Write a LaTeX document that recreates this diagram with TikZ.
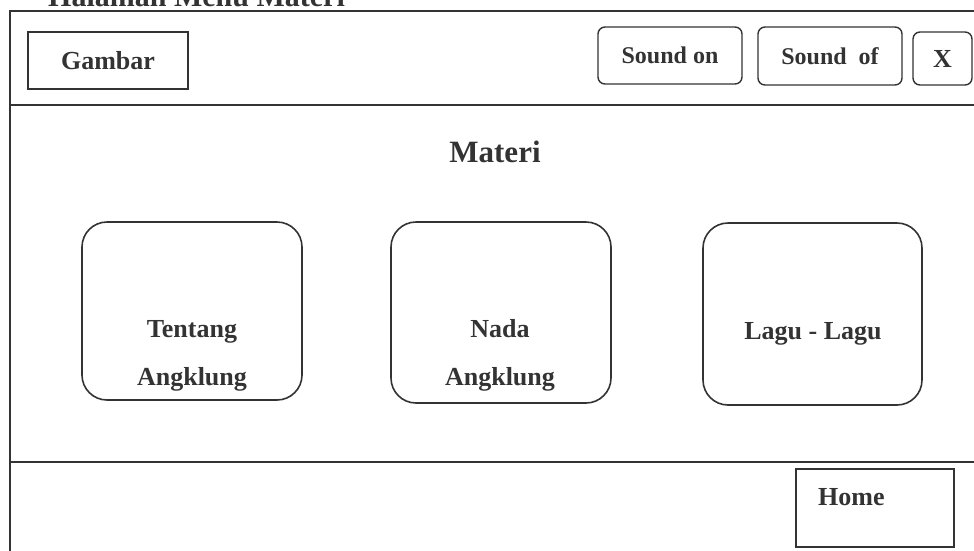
\documentclass[tikz,border=0pt]{standalone}
\usepackage{fontspec}
\setmainfont{Liberation Serif}
\definecolor{ink}{HTML}{333333}
\tikzset{
  frameline/.style={draw=ink,line width=1.6pt},
  btnbox/.style={draw=ink,line width=1.4pt,rounded corners=7pt,inner sep=0pt},
  flatbox/.style={draw=ink,line width=1.6pt,inner sep=0pt},
  menubox/.style={draw=ink,line width=1.6pt,rounded corners=25pt,inner sep=0pt,
    minimum width=220pt},
  lbl/.style={text=ink,font=\bfseries\fontsize{26}{30}\selectfont},
}
\begin{document}
\begin{tikzpicture}[x=1pt,y=-1pt]
\useasboundingbox (0,0) rectangle (974,550);
\clip (0,0) rectangle (974,550);
% judul (terpotong)
\node[lbl,font=\bfseries\fontsize{30}{34}\selectfont,anchor=base west,inner sep=0pt] (judul) at (48,6) {Halaman Menu Materi};
% bingkai
\coordinate (ftl) at (10,11);
\coordinate (ftr) at (990,11);
\coordinate (fbl) at (10,560);
\coordinate (stl) at (10,105);
\coordinate (str) at (990,105);
\coordinate (sbl) at (10,462);
\coordinate (sbr) at (990,462);
\draw[frameline] (ftr) -- (ftl) -- (fbl);
\draw[frameline] (stl) -- (str);
\draw[frameline] (sbl) -- (sbr);
% header
\node[flatbox,lbl,minimum width=160pt,minimum height=57pt] (gambar) at (108,60.5) {Gambar};
\node[btnbox,lbl,font=\bfseries\fontsize{24}{28}\selectfont,minimum width=144pt,minimum height=57pt] (soundon) at (670,55.5) {Sound on};
\node[btnbox,lbl,font=\bfseries\fontsize{24}{28}\selectfont,minimum width=144pt,minimum height=58pt] (soundof) at (830,56) {Sound\ \ of};
\node[btnbox,lbl,minimum width=59pt,minimum height=53pt] (tutup) at (942.5,58.5) {X};
% isi
\node[lbl,font=\bfseries\fontsize{31}{36}\selectfont] (materi) at (495,152) {Materi};
\node[menubox,minimum height=178pt] (tentang) at (192,311) {};
\node[menubox,minimum height=181pt] (nada) at (501,312.5) {};
\node[menubox,minimum width=219pt,minimum height=182pt] (lagu) at (812.5,314) {};
\node[lbl,anchor=base] (tentang1) at (192,337) {Tentang};
\node[lbl,anchor=base] (tentang2) at (192,385) {Angklung};
\node[lbl,anchor=base] (nada1) at (500,337) {Nada};
\node[lbl,anchor=base] (nada2) at (500,385) {Angklung};
\node[lbl,anchor=base] (lagu1) at (813,339) {Lagu - Lagu};
% footer
\node[flatbox,minimum width=158pt,minimum height=78pt] (home) at (875,508) {};
\node[lbl,anchor=base west,inner sep=0pt] (homet) at (818,505) {Home};
\end{tikzpicture}
\end{document}
